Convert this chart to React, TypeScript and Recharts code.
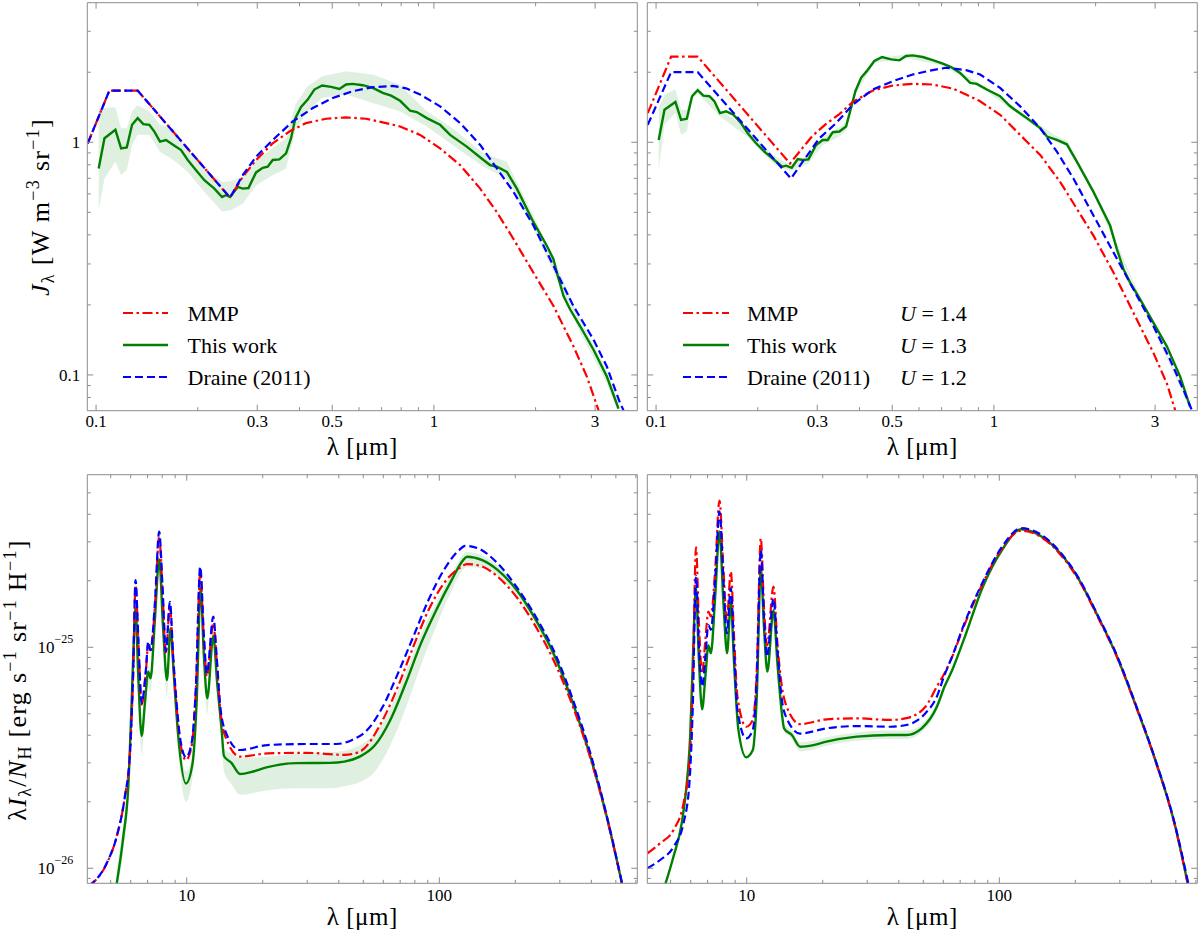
import React from "react";
import { ComposedChart, Line, Area, XAxis, YAxis } from "recharts";

/* ---------- colours and line styles ---------- */
const RED = "#ff0000";
const GREEN = "#008000";
const BLUE = "#0000ff";
const FRAME = "#8c8c8c";
const FONT = '"Liberation Serif", "DejaVu Serif", "Times New Roman", serif';
const MMP_DASH = "10 3.5 2.5 3.5";
const DRAINE_DASH = "8 4";
const MAJOR_LEN = 6;
const MINOR_LEN = 3.5;
// 軸の太さ（0 だと Recharts が軸を描かないので 1px にして余白で補正）
const AXIS_PX = 1;

/* ---------- axes ---------- */
const TOP_X_DOMAIN: [number, number] = [0.0942, 4.0];
const TOP_Y_DOMAIN: [number, number] = [0.0702, 3.98];
const BOT_X_DOMAIN: [number, number] = [4.04, 608];
const BOT_Y_DOMAIN: [number, number] = [8.55e-27, 6.04e-25];

const TOP_X_TICKS = [0.1, 0.2, 0.3, 0.4, 0.5, 0.6, 0.7, 0.8, 0.9, 1, 2, 3];
const TOP_X_MAJOR = [0.1, 0.3, 0.5, 1, 3];
const TOP_X_LABELS = ["0.1", "0.3", "0.5", "1", "3"];
const TOP_Y_TICKS = [0.08, 0.09, 0.1, 0.2, 0.3, 0.4, 0.5, 0.6, 0.7, 0.8, 0.9, 1, 2, 3];
const TOP_Y_MAJOR = [0.1, 1];
const TOP_Y_LABELS = ["0.1", "1"];
const BOT_X_TICKS = [5, 6, 7, 8, 9, 10, 20, 30, 40, 50, 60, 70, 80, 90, 100, 200, 300, 400, 500, 600];
const BOT_X_MAJOR = [10, 100];
const BOT_X_LABELS = ["10", "100"];
const BOT_Y_TICKS = [
  9e-27, 1e-26, 2e-26, 3e-26, 4e-26, 5e-26, 6e-26, 7e-26, 8e-26, 9e-26,
  1e-25, 2e-25, 3e-25, 4e-25, 5e-25,
];
const BOT_Y_MAJOR = [1e-26, 1e-25];
const BOT_Y_EXPONENTS = ["−26", "−25"];

/* ---------- legend ---------- */
const LEGEND_NAMES = ["MMP", "This work", "Draine (2011)"];
const LEGEND_U = ["1.4", "1.3", "1.2"];

/* ---------- top left: J_lambda, solar neighbourhood ---------- */
const TL_MMP_X = [0.0945, 0.1095, 0.1328, 0.2492, 0.2717, 0.2976, 0.3334, 0.3735, 0.4183, 0.4797, 0.5496, 0.63, 0.7218, 0.7943, 0.9103, 1.043, 1.196, 1.371, 1.536, 1.72, 1.971, 2.259, 2.589, 2.836, 3.071];
const TL_MMP_Y = [0.99, 1.668, 1.668, 0.578, 0.71, 0.839, 0.99, 1.112, 1.209, 1.262, 1.279, 1.262, 1.209, 1.169, 1.076, 0.942, 0.798, 0.632, 0.501, 0.384, 0.275, 0.198, 0.1327, 0.0984, 0.0706];
const TL_DRAINE_X = [0.0945, 0.1095, 0.1328, 0.2492, 0.2717, 0.2976, 0.3334, 0.3822, 0.4379, 0.5018, 0.575, 0.6592, 0.7552, 0.8273, 0.9103, 1.043, 1.196, 1.371, 1.536, 1.72, 1.971, 2.259, 2.589, 2.968, 3.25, 3.559, 3.641];
const TL_DRAINE_Y = [0.99, 1.668, 1.668, 0.578, 0.722, 0.867, 1.023, 1.229, 1.403, 1.55, 1.657, 1.725, 1.747, 1.706, 1.603, 1.427, 1.209, 0.974, 0.772, 0.612, 0.4386, 0.2944, 0.1976, 0.1417, 0.1087, 0.0754, 0.0706];
const TL_THIS_X = [0.1018, 0.1059, 0.1141, 0.1186, 0.1233, 0.1278, 0.1328, 0.138, 0.1438, 0.1488, 0.1546, 0.1611, 0.1694, 0.1785, 0.1868, 0.1977, 0.2092, 0.224, 0.236, 0.2425, 0.2492, 0.2626, 0.2717, 0.2825, 0.2976, 0.3114, 0.3222, 0.3334, 0.3489, 0.3651, 0.3777, 0.389, 0.4044, 0.4231, 0.4427, 0.4667, 0.4963, 0.5252, 0.5496, 0.575, 0.6157, 0.6592, 0.7056, 0.7468, 0.7943, 0.8505, 0.8898, 0.9528, 1.043, 1.117, 1.251, 1.402, 1.467, 1.536, 1.644, 1.76, 1.971, 2.159, 2.259, 2.312, 2.419, 2.531, 2.71, 2.968, 3.25, 3.519];
const TL_THIS_Y = [0.772, 1.041, 1.131, 0.942, 0.951, 1.189, 1.27, 1.197, 1.189, 1.112, 1.007, 1.023, 0.974, 0.926, 0.839, 0.759, 0.687, 0.632, 0.582, 0.592, 0.582, 0.643, 0.632, 0.636, 0.742, 0.777, 0.785, 0.839, 0.844, 0.896, 1.041, 1.27, 1.417, 1.525, 1.685, 1.753, 1.73, 1.696, 1.771, 1.783, 1.759, 1.713, 1.63, 1.587, 1.507, 1.366, 1.349, 1.27, 1.189, 1.076, 0.958, 0.839, 0.798, 0.785, 0.746, 0.632, 0.4534, 0.3593, 0.3146, 0.2754, 0.2183, 0.1911, 0.1619, 0.1283, 0.0984, 0.0717];
const TL_BAND_X = [0.1018, 0.1059, 0.1141, 0.1186, 0.1233, 0.1278, 0.1328, 0.1438, 0.1546, 0.1694, 0.1868, 0.2092, 0.236, 0.2492, 0.2717, 0.2976, 0.3334, 0.3651, 0.389, 0.4231, 0.4667, 0.5496, 0.6592, 0.7907, 0.9528, 1.117, 1.402, 1.644, 1.971, 2.312, 2.71, 3.25, 3.519];
const TL_BAND_LO = [0.5095, 0.6985, 0.825, 0.722, 0.759, 0.974, 1.076, 1.076, 0.911, 0.839, 0.746, 0.612, 0.5044, 0.5095, 0.5445, 0.654, 0.722, 0.772, 1.131, 1.358, 1.55, 1.603, 1.475, 1.358, 1.169, 0.99, 0.785, 0.6985, 0.4243, 0.2578, 0.1515, 0.092, 0.0682];
const TL_BAND_HI = [1.403, 1.403, 1.413, 1.15, 1.15, 1.358, 1.441, 1.358, 1.189, 1.15, 0.942, 0.772, 0.676, 0.68, 0.71, 0.839, 0.942, 1.041, 1.451, 1.742, 1.924, 2.022, 1.956, 1.771, 1.358, 1.169, 0.896, 0.825, 0.4846, 0.2944, 0.173, 0.105, 0.0767];

/* ---------- top right: J_lambda, fitted U ---------- */
const TR_MMP_X = [0.0945, 0.1108, 0.1328, 0.2492, 0.2657, 0.2909, 0.3187, 0.3489, 0.3822, 0.4379, 0.5018, 0.575, 0.6592, 0.7552, 0.8273, 0.9103, 1.043, 1.196, 1.371, 1.57, 1.76, 1.971, 2.259, 2.589, 2.968, 3.25, 3.44];
const TR_MMP_Y = [1.335, 2.333, 2.333, 0.811, 0.911, 1.069, 1.2, 1.322, 1.49, 1.668, 1.753, 1.783, 1.771, 1.702, 1.603, 1.5, 1.313, 1.076, 0.882, 0.676, 0.518, 0.397, 0.2754, 0.1849, 0.1241, 0.092, 0.0706];
const TR_DRAINE_X = [0.0945, 0.1108, 0.1328, 0.2509, 0.2717, 0.3044, 0.3412, 0.3822, 0.4379, 0.5018, 0.575, 0.6592, 0.7218, 0.8273, 0.9103, 1.043, 1.196, 1.371, 1.536, 1.72, 1.971, 2.259, 2.589, 2.968, 3.325, 3.641, 3.853];
const TR_DRAINE_Y = [1.189, 2.003, 2.003, 0.6985, 0.825, 1.041, 1.209, 1.451, 1.685, 1.83, 1.956, 2.043, 2.091, 2.043, 1.956, 1.713, 1.427, 1.15, 0.911, 0.6985, 0.4846, 0.3363, 0.2333, 0.1619, 0.1161, 0.0861, 0.0706];
const TR_THIS_X = [0.1018, 0.1059, 0.1141, 0.1186, 0.1233, 0.1278, 0.1328, 0.138, 0.1438, 0.1488, 0.1546, 0.1611, 0.1694, 0.1785, 0.1868, 0.1977, 0.2092, 0.224, 0.236, 0.2425, 0.2521, 0.2626, 0.2717, 0.2825, 0.2976, 0.3114, 0.3222, 0.3334, 0.3489, 0.3651, 0.3777, 0.389, 0.4044, 0.4203, 0.4427, 0.4667, 0.4963, 0.5252, 0.5496, 0.575, 0.6157, 0.6592, 0.7056, 0.7468, 0.7943, 0.8505, 0.8898, 0.9528, 1.043, 1.117, 1.251, 1.371, 1.435, 1.536, 1.644, 1.76, 1.971, 2.208, 2.312, 2.419, 2.531, 2.71, 2.968, 3.25, 3.559, 3.81];
const TR_THIS_Y = [1.023, 1.38, 1.49, 1.249, 1.262, 1.577, 1.674, 1.587, 1.577, 1.5, 1.335, 1.358, 1.313, 1.209, 1.094, 0.99, 0.911, 0.839, 0.785, 0.793, 0.777, 0.847, 0.839, 0.844, 0.974, 1.023, 1.023, 1.105, 1.112, 1.169, 1.403, 1.657, 1.893, 2.022, 2.235, 2.325, 2.272, 2.25, 2.349, 2.364, 2.325, 2.257, 2.176, 2.105, 1.986, 1.8, 1.783, 1.685, 1.577, 1.427, 1.27, 1.15, 1.058, 1.023, 0.98, 0.825, 0.612, 0.4386, 0.3476, 0.2848, 0.2493, 0.2112, 0.1674, 0.1327, 0.0984, 0.0729];
const TR_BAND_X = [0.1018, 0.1059, 0.1141, 0.1186, 0.1233, 0.1278, 0.1328, 0.1546, 0.1868, 0.224, 0.2492, 0.2825, 0.3114, 0.3489, 0.3651, 0.389, 0.4427, 0.5496, 0.7056, 0.9528, 1.251, 1.536, 1.644, 1.971, 2.71, 3.81];
const TR_BAND_LO = [0.759, 1.189, 1.335, 1.076, 1.112, 1.525, 1.62, 1.29, 1.05, 0.8, 0.75, 0.81, 0.97, 1.06, 1.12, 1.6, 2.19, 2.3, 2.13, 1.65, 1.24, 1.0, 0.96, 0.6, 0.207, 0.0715];
const TR_BAND_HI = [1.403, 1.603, 1.685, 1.38, 1.38, 1.63, 1.72, 1.38, 1.14, 0.87, 0.8, 0.88, 1.06, 1.16, 1.22, 1.7, 2.28, 2.39, 2.22, 1.72, 1.3, 1.06, 1.02, 0.63, 0.216, 0.0745];

/* ---------- bottom left: emission per H ---------- */
const BL_MMP_X = [4.1, 4.82, 5.28, 5.69, 5.96, 6.14, 6.27, 6.43, 6.63, 6.89, 7.04, 7.19, 7.48, 7.78, 8.02, 8.27, 8.58, 8.84, 9.12, 9.4, 9.93, 10.45, 10.87, 11.31, 11.7, 12.02, 12.74, 13.14, 13.54, 14.16, 16.25, 20.9, 29.7, 42.1, 48.4, 59.7, 68.6, 78.9, 90.7, 104.3, 120, 128.7, 147.9, 170, 202, 241, 287, 342, 393, 460, 529];
const BL_MMP_Y = [8.3e-27, 1.05e-26, 1.39e-26, 2.11e-26, 3.31e-26, 7.6e-26, 1.91e-25, 1.08e-25, 5.5e-26, 7.7e-26, 1.03e-25, 9.5e-26, 1.52e-25, 3.16e-25, 1.8e-25, 9.4e-26, 1.53e-25, 8.8e-26, 5.4e-26, 3.8e-26, 3.09e-26, 3.55e-26, 6.4e-26, 2.16e-25, 1.07e-25, 7.4e-26, 1.28e-25, 8.7e-26, 5.4e-26, 4.0e-26, 3.2e-26, 3.31e-26, 3.33e-26, 3.26e-26, 3.37e-26, 4.69e-26, 6.64e-26, 1.006e-25, 1.476e-25, 1.95e-25, 2.28e-25, 2.38e-25, 2.32e-25, 2.09e-25, 1.69e-25, 1.24e-25, 8.47e-26, 5.2e-26, 3.26e-26, 1.7e-26, 8.5e-27];
const BL_DRAINE_X = [4.1, 4.82, 5.28, 5.69, 5.96, 6.14, 6.27, 6.43, 6.63, 6.89, 7.04, 7.19, 7.48, 7.78, 8.02, 8.27, 8.58, 8.84, 9.12, 9.4, 9.93, 10.45, 10.87, 11.31, 11.7, 12.02, 12.74, 13.14, 13.54, 14.16, 16.25, 20.9, 29.7, 39.3, 45.2, 51.9, 59.7, 68.6, 78.9, 90.7, 104.3, 120, 126.4, 142.8, 170, 202, 241, 287, 342, 393, 460, 529];
const BL_DRAINE_Y = [8.3e-27, 1.053e-26, 1.39e-26, 2.11e-26, 3.31e-26, 7.88e-26, 2.015e-25, 1.117e-25, 5.58e-26, 7.88e-26, 1.06e-25, 9.7e-26, 1.58e-25, 3.336e-25, 1.88e-25, 9.55e-26, 1.607e-25, 9.07e-26, 5.58e-26, 3.94e-26, 3.18e-26, 3.67e-26, 6.64e-26, 2.317e-25, 1.117e-25, 7.62e-26, 1.376e-25, 9.07e-26, 5.58e-26, 4.23e-26, 3.43e-26, 3.61e-26, 3.65e-26, 3.65e-26, 3.81e-26, 4.23e-26, 5.38e-26, 7.62e-26, 1.117e-25, 1.64e-25, 2.24e-25, 2.757e-25, 2.88e-25, 2.8e-25, 2.4e-25, 1.88e-25, 1.375e-25, 9.4e-26, 5.58e-26, 3.43e-26, 1.73e-26, 8.55e-27];
const BL_THIS_X = [5.28, 5.61, 5.87, 6.05, 6.18, 6.27, 6.43, 6.63, 6.83, 7.04, 7.19, 7.48, 7.78, 8.07, 8.35, 8.63, 8.9, 9.26, 9.93, 10.55, 10.94, 11.35, 11.7, 12.06, 12.74, 13.2, 13.75, 14.04, 15.06, 16.25, 18.34, 20.7, 27.2, 36.9, 42.1, 48.4, 55.7, 64.0, 73.6, 84.6, 97.3, 111.9, 124.3, 128.7, 147.9, 170, 202, 241, 287, 342, 393, 460, 529];
const BL_THIS_Y = [8.5e-27, 1.39e-26, 2.34e-26, 5.58e-26, 1.117e-25, 1.5e-25, 7.36e-26, 3.97e-26, 5.58e-26, 7.75e-26, 7.24e-26, 1.33e-25, 2.5e-25, 1.2e-25, 7.11e-26, 1.217e-25, 7.36e-26, 3.94e-26, 2.42e-26, 2.99e-26, 5.58e-26, 1.847e-25, 9.07e-26, 5.88e-26, 1.125e-25, 6.86e-26, 4.23e-26, 3.22e-26, 2.99e-26, 2.67e-26, 2.74e-26, 2.86e-26, 2.99e-26, 3.0e-26, 3.04e-26, 3.2e-26, 3.61e-26, 4.69e-26, 6.87e-26, 1.042e-25, 1.476e-25, 2.015e-25, 2.48e-25, 2.57e-25, 2.48e-25, 2.24e-25, 1.82e-25, 1.33e-25, 9.07e-26, 5.38e-26, 3.31e-26, 1.72e-26, 8.5e-27];
const BL_BAND_X = [5.28, 5.61, 5.87, 6.05, 6.18, 6.27, 6.43, 6.63, 6.83, 7.04, 7.19, 7.48, 7.78, 8.07, 8.35, 8.63, 8.9, 9.26, 9.93, 10.55, 10.94, 11.35, 11.7, 12.06, 12.74, 13.2, 13.75, 14.04, 15.06, 16.25, 20.7, 27.2, 36.9, 42.1, 48.4, 55.7, 64.0, 73.6, 84.6, 97.3, 111.9, 128.7, 147.9, 202, 287, 393, 529];
const BL_BAND_LO = [8.0e-27, 1.2e-26, 2.0e-26, 4.8e-26, 1.0e-25, 1.4e-25, 6.6e-26, 3.3e-26, 4.7e-26, 6.6e-26, 6.3e-26, 1.2e-25, 2.35e-25, 1.1e-25, 6.0e-26, 1.12e-25, 6.5e-26, 3.4e-26, 2.0e-26, 2.6e-26, 5.0e-26, 1.75e-25, 8.2e-26, 4.9e-26, 1.05e-25, 6.1e-26, 3.7e-26, 2.75e-26, 2.4e-26, 2.15e-26, 2.25e-26, 2.3e-26, 2.3e-26, 2.35e-26, 2.45e-26, 2.75e-26, 3.6e-26, 5.3e-26, 8.3e-26, 1.25e-25, 1.8e-25, 2.3e-25, 2.28e-25, 1.7e-25, 8.6e-26, 3.15e-26, 8.2e-27];
const BL_BAND_HI = [1.0e-26, 1.6e-26, 2.7e-26, 6.4e-26, 1.2e-25, 1.6e-25, 8.0e-26, 4.3e-26, 6.0e-26, 8.3e-26, 7.8e-26, 1.42e-25, 2.6e-25, 1.28e-25, 7.6e-26, 1.3e-25, 7.9e-26, 4.3e-26, 2.75e-26, 3.3e-26, 6.0e-26, 1.95e-25, 9.7e-26, 6.3e-26, 1.2e-25, 7.4e-26, 4.6e-26, 3.5e-26, 3.3e-26, 3.15e-26, 3.2e-26, 3.3e-26, 3.35e-26, 3.4e-26, 3.6e-26, 4.1e-26, 5.3e-26, 7.7e-26, 1.15e-25, 1.6e-25, 2.15e-25, 2.7e-25, 2.6e-25, 1.9e-25, 9.5e-26, 3.45e-26, 8.9e-27];

/* ---------- bottom right: emission per H, fitted U ---------- */
const BR_MMP_X = [4.045, 4.54, 5.13, 5.62, 5.93, 6.11, 6.3, 6.46, 6.66, 6.86, 7.05, 7.21, 7.5, 7.8, 8.09, 8.34, 8.65, 8.91, 9.19, 9.95, 10.57, 10.96, 11.37, 11.72, 12.04, 12.76, 13.23, 13.78, 14.4, 16.27, 20.7, 27.3, 37.0, 42.9, 51.0, 56.6, 60.7, 65.1, 72.3, 86.1, 102.5, 122.1, 145.3, 173, 206, 245, 292, 348, 414, 493, 557];
const BR_MMP_Y = [1.169e-26, 1.297e-26, 1.49e-26, 1.97e-26, 2.99e-26, 6.64e-26, 2.833e-25, 1.33e-25, 7.62e-26, 1.08e-25, 1.45e-25, 1.38e-25, 2.24e-25, 4.61e-25, 2.24e-25, 1.33e-25, 2.2e-25, 1.117e-25, 5.97e-26, 4.37e-26, 4.69e-26, 7.88e-26, 3.11e-25, 1.476e-25, 1.02e-25, 1.88e-25, 1.04e-25, 6.64e-26, 5.38e-26, 4.49e-26, 4.72e-26, 4.77e-26, 4.69e-26, 4.78e-26, 5.38e-26, 6.64e-26, 7.63e-26, 9.07e-26, 1.24e-25, 1.95e-25, 2.8e-25, 3.37e-25, 3.17e-25, 2.66e-25, 2.02e-25, 1.375e-25, 9.07e-26, 5.38e-26, 3.09e-26, 1.6e-26, 8.55e-27];
const BR_DRAINE_X = [4.045, 4.54, 5.13, 5.62, 5.93, 6.11, 6.3, 6.46, 6.66, 6.86, 7.05, 7.21, 7.5, 7.8, 8.09, 8.34, 8.65, 8.91, 9.19, 9.95, 10.57, 10.96, 11.37, 11.72, 12.04, 12.76, 13.23, 13.78, 14.4, 16.27, 20.7, 27.3, 37.0, 42.9, 51.0, 56.6, 60.7, 65.1, 72.3, 86.1, 102.5, 122.1, 145.3, 173, 206, 245, 292, 348, 414, 493, 560];
const BR_DRAINE_Y = [1.0e-26, 1.09e-26, 1.25e-26, 1.6e-26, 2.42e-26, 5.2e-26, 2.1e-25, 1.04e-25, 6.64e-26, 9.07e-26, 1.26e-25, 1.2e-25, 2.02e-25, 4.11e-25, 2.02e-25, 1.156e-25, 1.85e-25, 9.72e-26, 5.2e-26, 3.87e-26, 4.23e-26, 7.36e-26, 2.75e-25, 1.33e-25, 9.07e-26, 1.66e-25, 9.72e-26, 5.78e-26, 4.77e-26, 4.07e-26, 4.3e-26, 4.4e-26, 4.37e-26, 4.45e-26, 5.03e-26, 5.98e-26, 7.5e-26, 9.1e-26, 1.26e-25, 1.98e-25, 2.85e-25, 3.46e-25, 3.25e-25, 2.72e-25, 2.06e-25, 1.4e-25, 9.2e-26, 5.45e-26, 3.12e-26, 1.62e-26, 8.55e-27];
const BR_THIS_X = [4.6, 5.13, 5.53, 5.79, 5.97, 6.1, 6.3, 6.46, 6.66, 6.86, 7.05, 7.21, 7.5, 7.8, 8.09, 8.36, 8.65, 8.91, 9.27, 9.95, 10.57, 10.96, 11.37, 11.72, 12.07, 12.76, 13.23, 13.78, 14.05, 15.09, 16.27, 18.38, 20.7, 27.3, 37.0, 42.9, 49.3, 56.6, 60.7, 65.1, 72.3, 86.1, 102.5, 122.1, 145.3, 173, 206, 245, 292, 348, 414, 493, 557];
const BR_THIS_Y = [7.5e-27, 1.13e-26, 1.6e-26, 2.42e-26, 3.94e-26, 7.88e-26, 1.85e-25, 9.07e-26, 5.24e-26, 7.36e-26, 1.02e-25, 9.4e-26, 1.69e-25, 3.34e-25, 1.58e-25, 9.4e-26, 1.607e-25, 8.46e-26, 4.23e-26, 3.18e-26, 3.43e-26, 5.98e-26, 2.28e-25, 1.2e-25, 7.76e-26, 1.47e-25, 8.46e-26, 5.02e-26, 4.3e-26, 4.01e-26, 3.55e-26, 3.61e-26, 3.74e-26, 3.94e-26, 4.01e-26, 4.01e-26, 4.3e-26, 5.38e-26, 6.64e-26, 7.89e-26, 1.08e-25, 1.88e-25, 2.757e-25, 3.42e-25, 3.2e-25, 2.69e-25, 2.04e-25, 1.39e-25, 9.1e-26, 5.4e-26, 3.1e-26, 1.61e-26, 8.55e-27];
const BR_BAND_X = [14.05, 15.09, 16.27, 18.38, 20.7, 27.3, 37.0, 42.9, 49.3, 56.6, 60.7];
const BR_BAND_LO = [4.12e-26, 3.85e-26, 3.38e-26, 3.45e-26, 3.58e-26, 3.78e-26, 3.85e-26, 3.85e-26, 4.12e-26, 5.15e-26, 6.35e-26];
const BR_BAND_HI = [4.5e-26, 4.18e-26, 3.72e-26, 3.78e-26, 3.92e-26, 4.12e-26, 4.2e-26, 4.2e-26, 4.5e-26, 5.62e-26, 6.95e-26];

/* ---------- helpers ---------- */
type Row = { x: number; y: number };
type BandRow = { x: number; band: [number, number] };

const toRows = (xs: number[], ys: number[]): Row[] => xs.map((x, i) => ({ x, y: ys[i] }));
const toBand = (xs: number[], lo: number[], hi: number[]): BandRow[] =>
  xs.map((x, i) => ({ x, band: [lo[i], hi[i]] }));

type TickArgs = { x?: number; y?: number; payload?: { value: number } };
type Side = "bottom" | "top" | "left" | "right";
type LabelRender = (i: number, x: number, y: number) => React.ReactNode;

/** 枠の内側に向くティック（主目盛りは長く、ラベルは任意） */
function makeTick(side: Side, major: number[], render?: LabelRender) {
  return (p: TickArgs) => {
    const x = p.x ?? 0;
    const y = p.y ?? 0;
    const v = p.payload?.value ?? NaN;
    const idx = major.indexOf(v);
    const len = idx >= 0 ? MAJOR_LEN : MINOR_LEN;
    let x2 = x;
    let y2 = y;
    if (side === "bottom") y2 = y - len;
    else if (side === "top") y2 = y + len;
    else if (side === "left") x2 = x + len;
    else x2 = x - len;
    return (
      <g>
        <line x1={x} y1={y} x2={x2} y2={y2} stroke={FRAME} strokeWidth={1} />
        {idx >= 0 && render ? render(idx, x, y) : null}
      </g>
    );
  };
}

const tickText = { fontFamily: FONT, fontSize: 17, fill: "#000" };

const topXLabel: LabelRender = (i, x, y) => (
  <text x={x} y={y + 16.6} textAnchor="middle" {...tickText}>{TOP_X_LABELS[i]}</text>
);
const topYLabel: LabelRender = (i, x, y) => (
  <text x={x - 7} y={y + 5.7} textAnchor="end" {...tickText}>{TOP_Y_LABELS[i]}</text>
);
const botXLabel: LabelRender = (i, x, y) => (
  <text x={x} y={y + 17.5} textAnchor="middle" {...tickText}>{BOT_X_LABELS[i]}</text>
);
const botYLabel: LabelRender = (i, x, y) => (
  <text x={x - 14} y={y + 6} textAnchor="end" {...tickText}>
    10<tspan fontSize={12} dy={-10}>{BOT_Y_EXPONENTS[i]}</tspan>
  </text>
);

type Box = { top: number; right: number; bottom: number; left: number };

type PanelProps = {
  left: number;
  top: number;
  width: number;
  height: number;
  plot: Box; // 枠（描画領域）までの距離
  xDomain: [number, number];
  yDomain: [number, number];
  xTicks: number[];
  yTicks: number[];
  xMajor: number[];
  yMajor: number[];
  xLabel: LabelRender;
  yLabel?: LabelRender;
  curve: "linear" | "monotone";
  mmp: Row[];
  draine: Row[];
  own: Row[];
  band: BandRow[];
};

function Panel(p: PanelProps) {
  const axisCommon = {
    type: "number" as const,
    scale: "log" as const,
    allowDataOverflow: true,
    interval: 0 as const,
    tickSize: 0,
    tickMargin: 0,
    tickLine: false,
    axisLine: { stroke: FRAME, strokeWidth: 1 },
  };
  // 軸は 1px 分の幅を取るので、その分だけ余白を減らす
  const margin = {
    top: p.plot.top - AXIS_PX,
    right: p.plot.right - AXIS_PX,
    bottom: p.plot.bottom - AXIS_PX,
    left: p.plot.left - AXIS_PX,
  };
  return (
    <div style={{ position: "absolute", left: p.left, top: p.top }}>
      <ComposedChart width={p.width} height={p.height} margin={margin}>
        <XAxis xAxisId="b" dataKey="x" domain={p.xDomain} ticks={p.xTicks} height={AXIS_PX}
          tick={makeTick("bottom", p.xMajor, p.xLabel)} {...axisCommon} />
        <XAxis xAxisId="t" dataKey="x" orientation="top" domain={p.xDomain} ticks={p.xTicks} height={AXIS_PX}
          tick={makeTick("top", p.xMajor)} {...axisCommon} />
        <YAxis yAxisId="l" domain={p.yDomain} ticks={p.yTicks} width={AXIS_PX}
          tick={makeTick("left", p.yMajor, p.yLabel)} {...axisCommon} />
        <YAxis yAxisId="r" orientation="right" domain={p.yDomain} ticks={p.yTicks} width={AXIS_PX}
          tick={makeTick("right", p.yMajor)} {...axisCommon} />
        {/* 本研究の不確かさ幅 */}
        <Area xAxisId="b" yAxisId="l" data={p.band} dataKey="band" type={p.curve}
          stroke="none" fill={GREEN} fillOpacity={0.12} isAnimationActive={false} />
        <Line xAxisId="b" yAxisId="l" data={p.own} dataKey="y" type={p.curve}
          stroke={GREEN} strokeWidth={2.4} dot={false} isAnimationActive={false} />
        <Line xAxisId="b" yAxisId="l" data={p.mmp} dataKey="y" type={p.curve}
          stroke={RED} strokeWidth={2.2} strokeDasharray={MMP_DASH} dot={false} isAnimationActive={false} />
        <Line xAxisId="b" yAxisId="l" data={p.draine} dataKey="y" type={p.curve}
          stroke={BLUE} strokeWidth={2.2} strokeDasharray={DRAINE_DASH} dot={false} isAnimationActive={false} />
      </ComposedChart>
    </div>
  );
}

const LEGEND_STYLES = [
  { color: RED, dash: MMP_DASH },
  { color: GREEN, dash: undefined },
  { color: BLUE, dash: DRAINE_DASH },
];
const LEGEND_ROWS_Y = [313, 345, 377];

function LegendBlock({ x0, x1, tx, ux }: { x0: number; x1: number; tx: number; ux?: number }) {
  return (
    <g>
      {LEGEND_NAMES.map((name, i) => (
        <g key={name}>
          <line x1={x0} x2={x1} y1={LEGEND_ROWS_Y[i]} y2={LEGEND_ROWS_Y[i]}
            stroke={LEGEND_STYLES[i].color} strokeWidth={i === 1 ? 2.4 : 2.2}
            strokeDasharray={LEGEND_STYLES[i].dash} />
          <text x={tx} y={LEGEND_ROWS_Y[i] + 7.7} fontFamily={FONT} fontSize={22} fill="#000">{name}</text>
          {ux !== undefined && (
            <text x={ux} y={LEGEND_ROWS_Y[i] + 7.7} fontFamily={FONT} fontSize={22} fill="#000">
              <tspan fontStyle="italic">U</tspan> = {LEGEND_U[i]}
            </text>
          )}
        </g>
      ))}
    </g>
  );
}

function Overlay() {
  const title = { fontFamily: FONT, fill: "#000" };
  return (
    <svg width={1200} height={936} style={{ position: "absolute", left: 0, top: 0, pointerEvents: "none" }}>
      <LegendBlock x0={123} x1={168} tx={187.5} />
      <LegendBlock x0={683} x1={729} tx={747} ux={900} />
      {[362.3, 922.3].map((cx) => (
        <g key={cx}>
          <text x={cx} y={455} textAnchor="middle" fontSize={25} letterSpacing={0.5} {...title}>λ [μm]</text>
          <text x={cx} y={925} textAnchor="middle" fontSize={25} letterSpacing={0.5} {...title}>λ [μm]</text>
        </g>
      ))}
      <text transform="translate(48.5,207) rotate(-90)" textAnchor="middle" fontSize={26} letterSpacing={1.3} {...title}>
        <tspan fontStyle="italic">J</tspan>
        <tspan fontSize={18} dy={5}>λ</tspan>
        <tspan dy={-5}> [W m</tspan>
        <tspan fontSize={18} dy={-10}>−3</tspan>
        <tspan dy={10}> sr</tspan>
        <tspan fontSize={18} dy={-10}>−1</tspan>
        <tspan dy={10}>]</tspan>
      </text>
      <text transform="translate(26,680) rotate(-90)" textAnchor="middle" fontSize={26} letterSpacing={1.3} {...title}>
        λ<tspan fontStyle="italic">I</tspan>
        <tspan fontSize={18} dy={5}>λ</tspan>
        <tspan dy={-5}>/</tspan>
        <tspan fontStyle="italic">N</tspan>
        <tspan fontSize={18} dy={5}>H</tspan>
        <tspan dy={-5}> [erg s</tspan>
        <tspan fontSize={18} dy={-10}>−1</tspan>
        <tspan dy={10}> sr</tspan>
        <tspan fontSize={18} dy={-10}>−1</tspan>
        <tspan dy={10}> H</tspan>
        <tspan fontSize={18} dy={-10}>−1</tspan>
        <tspan dy={10}>]</tspan>
      </text>
    </svg>
  );
}

export default function App() {
  const topPlotL = { top: 2.7, right: 2.7, bottom: 59.3, left: 87.3 };
  const topPlotR = { top: 2.7, right: 2.7, bottom: 59.3, left: 7.3 };
  const botPlotL = { top: 4.7, right: 2.7, bottom: 52.7, left: 87.3 };
  const botPlotR = { top: 4.7, right: 2.7, bottom: 52.7, left: 7.3 };
  return (
    <div style={{ position: "absolute", left: 0, top: 0, width: 1200, height: 936, background: "#fff", overflow: "hidden" }}>
      <Panel left={0} top={0} width={640} height={470} plot={topPlotL}
        xDomain={TOP_X_DOMAIN} yDomain={TOP_Y_DOMAIN} xTicks={TOP_X_TICKS} yTicks={TOP_Y_TICKS}
        xMajor={TOP_X_MAJOR} yMajor={TOP_Y_MAJOR} xLabel={topXLabel} yLabel={topYLabel} curve="linear"
        mmp={toRows(TL_MMP_X, TL_MMP_Y)} draine={toRows(TL_DRAINE_X, TL_DRAINE_Y)}
        own={toRows(TL_THIS_X, TL_THIS_Y)} band={toBand(TL_BAND_X, TL_BAND_LO, TL_BAND_HI)} />
      <Panel left={640} top={0} width={560} height={470} plot={topPlotR}
        xDomain={TOP_X_DOMAIN} yDomain={TOP_Y_DOMAIN} xTicks={TOP_X_TICKS} yTicks={TOP_Y_TICKS}
        xMajor={TOP_X_MAJOR} yMajor={TOP_Y_MAJOR} xLabel={topXLabel} curve="linear"
        mmp={toRows(TR_MMP_X, TR_MMP_Y)} draine={toRows(TR_DRAINE_X, TR_DRAINE_Y)}
        own={toRows(TR_THIS_X, TR_THIS_Y)} band={toBand(TR_BAND_X, TR_BAND_LO, TR_BAND_HI)} />
      <Panel left={0} top={470} width={640} height={466} plot={botPlotL}
        xDomain={BOT_X_DOMAIN} yDomain={BOT_Y_DOMAIN} xTicks={BOT_X_TICKS} yTicks={BOT_Y_TICKS}
        xMajor={BOT_X_MAJOR} yMajor={BOT_Y_MAJOR} xLabel={botXLabel} yLabel={botYLabel} curve="monotone"
        mmp={toRows(BL_MMP_X, BL_MMP_Y)} draine={toRows(BL_DRAINE_X, BL_DRAINE_Y)}
        own={toRows(BL_THIS_X, BL_THIS_Y)} band={toBand(BL_BAND_X, BL_BAND_LO, BL_BAND_HI)} />
      <Panel left={640} top={470} width={560} height={466} plot={botPlotR}
        xDomain={BOT_X_DOMAIN} yDomain={BOT_Y_DOMAIN} xTicks={BOT_X_TICKS} yTicks={BOT_Y_TICKS}
        xMajor={BOT_X_MAJOR} yMajor={BOT_Y_MAJOR} xLabel={botXLabel} curve="monotone"
        mmp={toRows(BR_MMP_X, BR_MMP_Y)} draine={toRows(BR_DRAINE_X, BR_DRAINE_Y)}
        own={toRows(BR_THIS_X, BR_THIS_Y)} band={toBand(BR_BAND_X, BR_BAND_LO, BR_BAND_HI)} />
      <Overlay />
    </div>
  );
}
